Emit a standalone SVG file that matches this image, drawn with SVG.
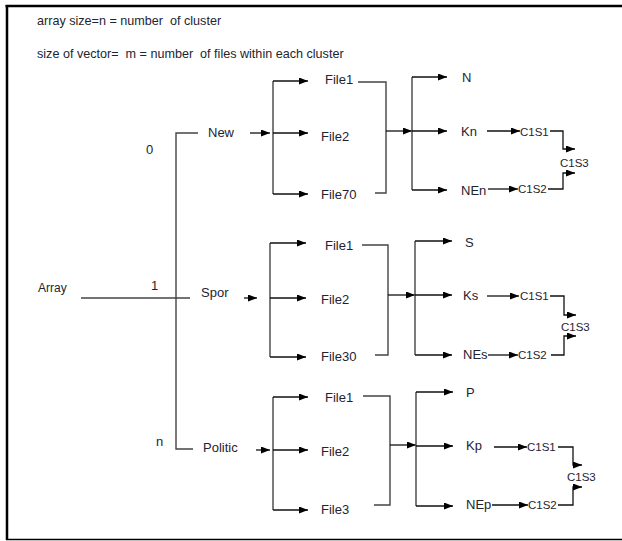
<svg xmlns="http://www.w3.org/2000/svg" width="622" height="541" viewBox="0 0 622 541">
<defs>
<marker id="ah" markerWidth="9" markerHeight="7" refX="9" refY="3.5" orient="auto" markerUnits="userSpaceOnUse">
<path d="M0,0 L9,3.5 L0,7 z" fill="#000"/>
</marker>
<style>
text{font-family:"Liberation Sans",Arial,sans-serif;fill:#1e2430}
.h{font-size:12.6px;white-space:pre}
.l{font-size:13px}
.c{font-size:11.5px}
.g{fill:none;stroke:#444;stroke-width:1.4}
.a{fill:none;stroke:#111;stroke-width:1.3;marker-end:url(#ah)}
.b{fill:none;stroke:#000}
</style>
</defs>
<rect width="622" height="541" fill="#fff"/>
<g id="frame">
<line class="b" x1="5.5" y1="6" x2="622" y2="6" stroke-width="2.5"/>
<line class="b" x1="7" y1="5" x2="7" y2="540" stroke-width="2.5"/>
<line class="b" x1="6" y1="539.5" x2="622" y2="539.5" stroke-width="1.5"/>
</g>
<g id="header">
<text class="h" x="37" y="25">array size=n = number  of cluster</text>
<text class="h" x="37" y="58">size of vector=  m = number  of files within each cluster</text>
</g>
<g id="connectors">
<!-- main tree -->
<path class="g" d="M81,298 H190"/>
<path class="g" d="M198,133 H176 V449 H193"/>
<!-- cluster New -->
<path class="a" d="M250,133 H270"/>
<path class="g" d="M273,81 V194"/>
<path class="a" d="M273,81 H308"/>
<path class="a" d="M273,133 H308"/>
<path class="a" d="M273,194 H308"/>
<path class="g" d="M358,82 H386 V193 H375"/>
<path class="a" d="M386,131 H412"/>
<path class="g" d="M412,77 V190"/>
<path class="a" d="M412,77 H447"/>
<path class="a" d="M412,131 H447"/>
<path class="a" d="M412,190 H447"/>
<path class="a" d="M487,131 H520"/>
<path class="a" d="M488,189 H518"/>
<path class="a" d="M550,131 H563 V149 H575"/>
<path class="a" d="M548,189 H563 V173 H575"/>
<!-- cluster Spor -->
<path class="a" d="M244,298 H257"/>
<path class="g" d="M270,243 V357"/>
<path class="a" d="M270,243 H306"/>
<path class="a" d="M270,298 H306"/>
<path class="a" d="M270,357 H306"/>
<path class="g" d="M362,245 H388 V355 H375"/>
<path class="a" d="M388,295 H415"/>
<path class="g" d="M415,241 V355"/>
<path class="a" d="M415,241 H452"/>
<path class="a" d="M415,295 H452"/>
<path class="a" d="M415,355 H452"/>
<path class="a" d="M487,296 H519"/>
<path class="a" d="M488,355 H518"/>
<path class="a" d="M550,296 H564 V315 H576"/>
<path class="a" d="M551,355 H564 V336 H576"/>
<!-- cluster Politic -->
<path class="a" d="M256,450 H270"/>
<path class="g" d="M273,397 V510"/>
<path class="a" d="M273,397 H308"/>
<path class="a" d="M273,450 H308"/>
<path class="a" d="M273,510 H308"/>
<path class="g" d="M363,396 H390 V505 H374"/>
<path class="a" d="M390,445 H416"/>
<path class="g" d="M416,392 V506"/>
<path class="a" d="M416,392 H453"/>
<path class="a" d="M416,446 H453"/>
<path class="a" d="M416,506 H453"/>
<path class="a" d="M494,447 H527"/>
<path class="a" d="M492,505 H528"/>
<path class="a" d="M558,447 H573 V465 H582"/>
<path class="a" d="M558,505 H573 V487 H582"/>
</g>
<g id="array"><text class="l" x="38" y="292" style="font-size:12px">Array</text></g>
<g id="idx0"><text class="l" x="146" y="154">0</text></g>
<g id="idx1"><text class="l" x="151" y="290">1</text></g>
<g id="idxn"><text class="l" x="156" y="446">n</text></g>
<g id="new"><text class="l" x="208" y="137">New</text></g>
<g id="new-file1"><text class="l" x="325" y="84">File1</text></g>
<g id="new-file2"><text class="l" x="321" y="141">File2</text></g>
<g id="new-file70"><text class="l" x="321" y="199">File70</text></g>
<g id="new-n"><text class="l" x="462" y="82">N</text></g>
<g id="new-kn"><text class="l" x="461" y="136">Kn</text></g>
<g id="new-nen"><text class="l" x="461" y="195">NEn</text></g>
<g id="new-c1s1"><text class="c" x="520" y="136">C1S1</text></g>
<g id="new-c1s2"><text class="c" x="518" y="193">C1S2</text></g>
<g id="new-c1s3"><text class="c" x="560" y="167">C1S3</text></g>
<g id="spor"><text class="l" x="201" y="297">Spor</text></g>
<g id="spor-file1"><text class="l" x="325" y="250">File1</text></g>
<g id="spor-file2"><text class="l" x="321" y="304">File2</text></g>
<g id="spor-file30"><text class="l" x="321" y="361">File30</text></g>
<g id="spor-s"><text class="l" x="465" y="247">S</text></g>
<g id="spor-ks"><text class="l" x="463" y="300">Ks</text></g>
<g id="spor-nes"><text class="l" x="463" y="359">NEs</text></g>
<g id="spor-c1s1"><text class="c" x="520" y="300">C1S1</text></g>
<g id="spor-c1s2"><text class="c" x="518" y="359">C1S2</text></g>
<g id="spor-c1s3"><text class="c" x="561" y="331">C1S3</text></g>
<g id="politic"><text class="l" x="203" y="452">Politic</text></g>
<g id="politic-file1"><text class="l" x="325" y="402">File1</text></g>
<g id="politic-file2"><text class="l" x="321" y="456">File2</text></g>
<g id="politic-file3"><text class="l" x="321" y="514">File3</text></g>
<g id="politic-p"><text class="l" x="466" y="397">P</text></g>
<g id="politic-kp"><text class="l" x="466" y="450">Kp</text></g>
<g id="politic-nep"><text class="l" x="466" y="509">NEp</text></g>
<g id="politic-c1s1"><text class="c" x="527" y="451">C1S1</text></g>
<g id="politic-c1s2"><text class="c" x="528" y="509">C1S2</text></g>
<g id="politic-c1s3"><text class="c" x="567" y="481">C1S3</text></g>
</svg>
